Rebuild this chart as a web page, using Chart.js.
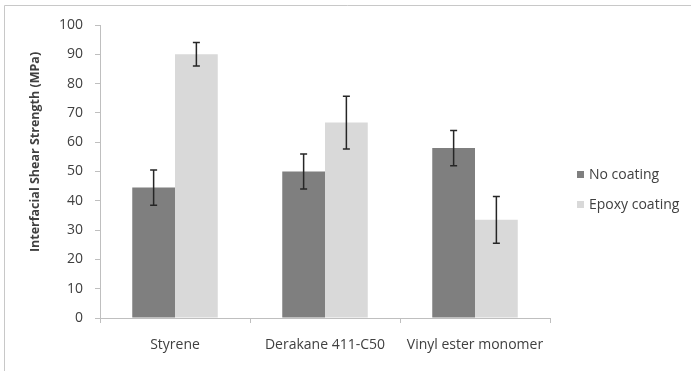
<!DOCTYPE html>
<html>
<head>
<meta charset="utf-8">
<script src="https://cdn.jsdelivr.net/npm/chart.js@4"></script>
<style>
  body { margin: 0; background: #fff; }
  #wrap { width: 691px; height: 371px; position: relative; }
</style>
</head>
<body>
<div id="wrap"><canvas id="chart"></canvas></div>
<script>
const categories = ["Styrene", "Derakane 411-C50", "Vinyl ester monomer"];
const noCoating = [44.5, 50, 58];
const noCoatingErr = [6, 6, 6];
const epoxyCoating = [90, 66.7, 33.5];
const epoxyErr = [4, 9, 8];
const yTicks = [0, 10, 20, 30, 40, 50, 60, 70, 80, 90, 100];
const yTitle = "Interfacial Shear Strength (MPa)";

const FONT = "'Open Sans', 'Liberation Sans', sans-serif";

// frame around the picture
const framePlugin = {
  id: "frame",
  beforeDraw(chart) {
    const c = chart.ctx;
    c.save();
    c.fillStyle = "#fff";
    c.fillRect(0, 0, chart.width, chart.height);
    c.strokeStyle = "#c8c8c8";
    c.lineWidth = 1;
    c.beginPath();
    c.moveTo(4.5, chart.height);
    c.lineTo(4.5, 5.5);
    c.lineTo(chart.width, 5.5);
    c.stroke();
    c.restore();
  }
};

// error bars drawn from the y scale
const errorBars = {
  id: "errorBars",
  afterDatasetsDraw(chart) {
    const c = chart.ctx;
    const y = chart.scales.y;
    c.save();
    c.strokeStyle = "#262626";
    c.lineWidth = 1.5;
    chart.data.datasets.forEach((ds, i) => {
      const meta = chart.getDatasetMeta(i);
      meta.data.forEach((bar, j) => {
        const v = ds.data[j], e = ds.errors[j];
        const top = y.getPixelForValue(v + e);
        const bot = y.getPixelForValue(v - e);
        c.beginPath();
        c.moveTo(bar.x, top); c.lineTo(bar.x, bot);
        c.moveTo(bar.x - 3.5, top); c.lineTo(bar.x + 3.5, top);
        c.moveTo(bar.x - 3.5, bot); c.lineTo(bar.x + 3.5, bot);
        c.stroke();
      });
    });
    c.restore();
  }
};

// y axis title and legend, placed like the original
const sideText = {
  id: "sideText",
  afterDraw(chart) {
    const c = chart.ctx;
    c.save();
    c.fillStyle = "#404040";
    c.font = "bold 12.5px " + FONT;
    c.textAlign = "center";
    c.textBaseline = "middle";
    c.translate(35, 152);
    c.rotate(-Math.PI / 2);
    c.fillText(yTitle, 0, 0);
    c.restore();

    const x0 = chart.chartArea.right + 27;
    c.save();
    c.font = "14px " + FONT;
    c.textBaseline = "middle";
    chart.data.datasets.forEach((ds, i) => {
      const yy = 175 + i * 30;
      c.fillStyle = ds.backgroundColor;
      c.fillRect(x0, yy - 4, 7, 7);
      c.fillStyle = "#404040";
      c.fillText(ds.label, x0 + 12, yy);
    });
    c.restore();
  }
};

new Chart(document.getElementById("chart"), {
  type: "bar",
  data: {
    labels: categories,
    datasets: [
      { label: "No coating", data: noCoating, errors: noCoatingErr, backgroundColor: "#7f7f7f" },
      { label: "Epoxy coating", data: epoxyCoating, errors: epoxyErr, backgroundColor: "#d9d9d9" }
    ]
  },
  options: {
    responsive: true,
    maintainAspectRatio: false,
    animation: false,
    categoryPercentage: 0.57,
    barPercentage: 1,
    layout: { padding: { top: 25, right: 141, left: 0, bottom: 0 } },
    plugins: {
      legend: { display: false },
      tooltip: { enabled: false }
    },
    scales: {
      x: {
        grid: { drawOnChartArea: false, tickLength: 5, color: "#bfbfbf", offset: true },
        border: { color: "#bfbfbf" },
        ticks: { color: "#404040", font: { family: FONT, size: 14 }, padding: 14, maxRotation: 0 },
        afterFit(s) { s.height = 53; }
      },
      y: {
        min: 0,
        max: 100,
        afterBuildTicks(s) { s.ticks = yTicks.map(v => ({ value: v })); },
        grid: { drawOnChartArea: false, tickLength: 5, color: "#bfbfbf" },
        border: { color: "#bfbfbf" },
        ticks: { color: "#404040", font: { family: FONT, size: 14 }, padding: 12 },
        afterFit(s) { s.width = 100; }
      }
    }
  },
  plugins: [framePlugin, errorBars, sideText]
});
</script>
</body>
</html>
